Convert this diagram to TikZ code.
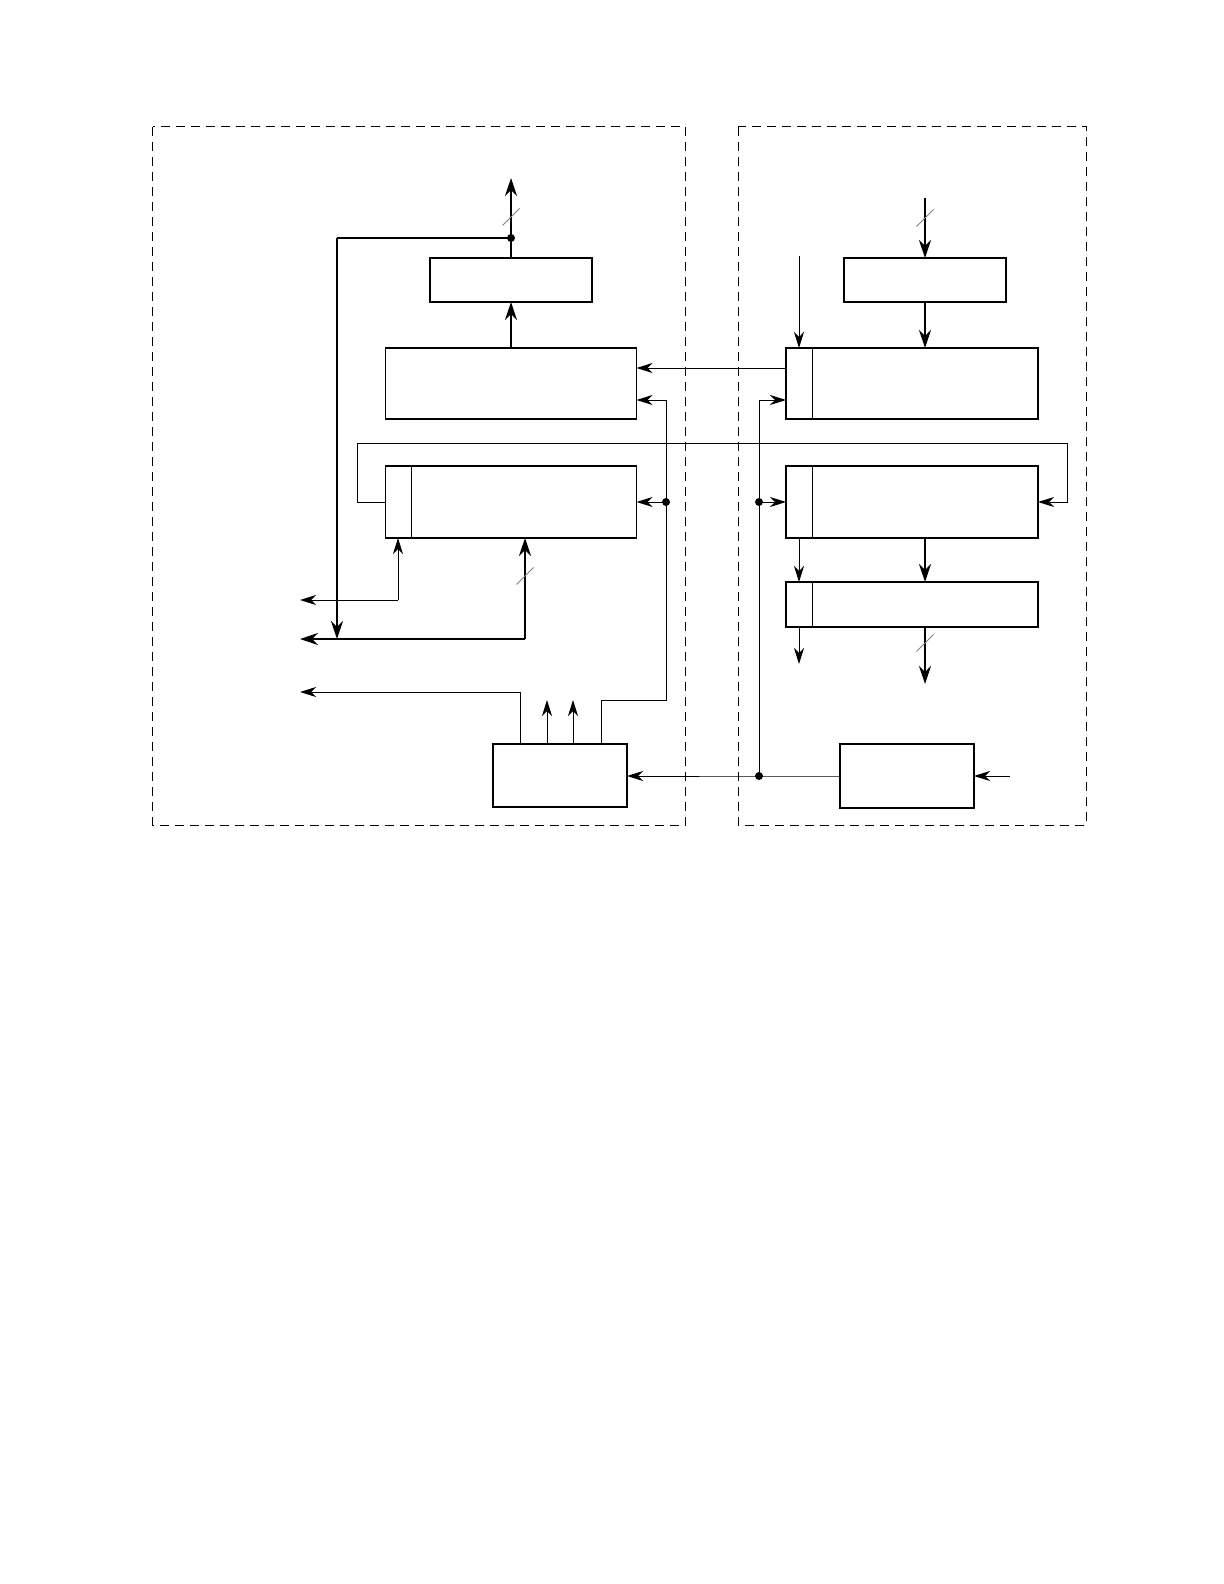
\documentclass[tikz,border=0pt]{standalone}
\usepackage{tikz}
\usetikzlibrary{arrows.meta}

\begin{document}
\begin{tikzpicture}[
    x=0.5pt, y=-0.5pt,
    >={Stealth[length=8pt,width=5pt,inset=2.5pt]},
    blk/.style={draw, line width=0.9pt, minimum height=#1, inner sep=0pt, outer sep=0pt},
    blk/.default=22pt,
    flow/.style={->, line width=0.5pt},
    wire/.style={line width=0.5pt},
    bus/.style={-{Stealth[length=9pt,width=6pt,inset=3pt]}, line width=0.9pt},
    frame/.style={line width=0.5pt, dash pattern=on 4.5pt off 3pt},
    slash/.style={line width=0.4pt, black!50},
    dot/.style={fill=black}
]
\useasboundingbox (0,0) rectangle (1224,1584);

% module frames
\draw[frame] (152.5,127) rectangle (685.7,825);
\draw[frame] (738.3,127) rectangle (1086.6,825);

% left module
\node[blk=22pt, minimum width=81pt] (outreg) at (511,280) {};
\node[blk=35.5pt, minimum width=125.5pt] (core) at (511,383.5) {};
\node[blk=36pt, minimum width=125.5pt] (ctrl) at (511,502) {};
\node[blk=31.5pt, minimum width=67pt] (timer) at (560,775.5) {};
\draw[wire] ([xshift=12.75pt]ctrl.north west) -- ([xshift=12.75pt]ctrl.south west);

% right module
\node[blk=22pt, minimum width=81pt] (inreg) at (925,280) {};
\node[blk=35.5pt, minimum width=126pt] (latch) at (912,383.5) {};
\node[blk=36pt, minimum width=126pt] (seq) at (912,502) {};
\node[blk=22.5pt, minimum width=126pt] (drv) at (912,604.5) {};
\node[blk=32pt, minimum width=67pt] (clk) at (907,776) {};
\foreach \b in {latch,seq,drv}
  \draw[wire] ([xshift=13pt]\b.north west) -- ([xshift=13pt]\b.south west);

% junctions and free ends
\coordinate (outT) at (511,178);
\coordinate (j1) at (511,238);
\coordinate (cL) at (337,238);
\coordinate (cLb) at (337,639);
\coordinate (busA) at (525,639);
\coordinate (outB) at (300,639);
\coordinate (sigA) at (398,600);
\coordinate (outA) at (300,600);
\coordinate (c4a) at (520,692);
\coordinate (outC) at (300,692);
\coordinate (up1) at (547,700);
\coordinate (up2) at (573,700);
\coordinate (r1) at (601,700);
\coordinate (r2) at (666,700);
\coordinate (r3) at (666,400);
\coordinate (j2) at (666,502);
\coordinate (l1) at (357,502);
\coordinate (l2) at (357,443);
\coordinate (l3) at (1067,443);
\coordinate (l4) at (1067,502);
\coordinate (j3) at (759,776);
\coordinate (r4) at (759,400);
\coordinate (j4) at (759,502);
\coordinate (inR) at (1010,776);
\coordinate (inT) at (925,198);
\coordinate (inT2) at (799,256);
\coordinate (outR1) at (925,684);
\coordinate (outR2) at (799,664);
\coordinate (p368) at (700,368);

% left side connectors
\draw[bus] (outreg.north) -- (outT);
\draw[bus] (core.north) -- (outreg.south);
\draw[line width=0.9pt] (j1) -- (cL);
\draw[bus] (cL) -- (cLb);
\draw[bus] (busA) -- (outB);
\draw[bus] (busA) -- (busA |- ctrl.south);
\draw[flow] (sigA) -- (outA);
\draw[flow] (sigA) -- (sigA |- ctrl.south);
\draw[flow] (c4a |- timer.north) -- (c4a) -- (outC);
\draw[flow] (up1 |- timer.north) -- (up1);
\draw[flow] (up2 |- timer.north) -- (up2);
\draw[flow] (r1 |- timer.north) -- (r1) -- (r2) -- (r3) -- (core.east |- r3);
\draw[flow] (j2) -- (ctrl.east |- j2);
\draw[flow] (latch.west |- p368) -- (core.east |- p368);
\draw[flow] (ctrl.west |- l1) -- (l1) -- (l2) -- (l3) -- (l4) -- (seq.east |- l4);

% right side connectors
\draw[bus] (inT) -- (inreg.north);
\draw[bus] (inreg.south) -- (inreg.south |- latch.north);
\draw[flow] (inT2) -- (inT2 |- latch.north);
\draw[bus] (seq.south -| inT) -- (drv.north -| inT);
\draw[flow] (seq.south -| inT2) -- (drv.north -| inT2);
\draw[bus] (drv.south -| outR1) -- (outR1);
\draw[flow] (drv.south -| outR2) -- (outR2);
\draw[flow] (inR) -- (clk.east);
\draw[flow] (clk.west) -- (j3) -- (timer.east |- j3);
\draw[flow] (j3) -- (r4) -- (latch.west |- r4);
\draw[flow] (j4) -- (seq.west |- j4);

% bus width marks
\foreach \p in {(511,217),(525,576),(925,218),(925,643)}
  \draw[slash] \p ++(-8.5,8.5) -- ++(17,-17);

% junction dots
\foreach \c in {j1,j2,j3,j4}
  \fill[dot] (\c) circle (2pt);
\end{tikzpicture}
\end{document}
